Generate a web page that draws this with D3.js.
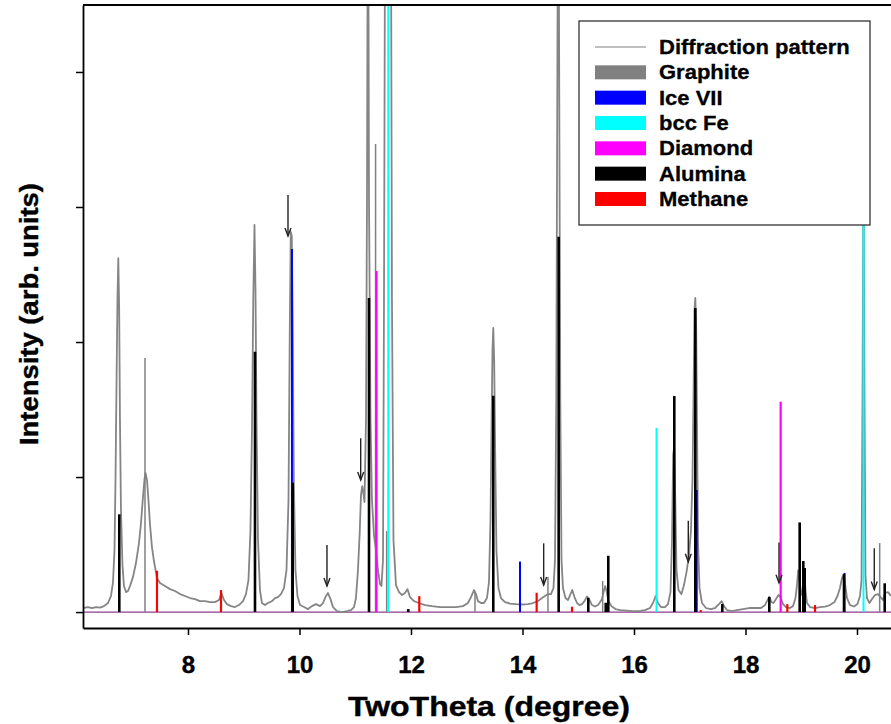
<!DOCTYPE html>
<html>
<head>
<meta charset="utf-8">
<script src="https://cdn.jsdelivr.net/npm/d3@7"></script>
<style>
  body { margin: 0; background: #fff; }
  #root { width: 891px; height: 724px; }
  text { font-family: "Liberation Sans", Arial, Helvetica, sans-serif; font-weight: bold; }
</style>
</head>
<body>
<div id="root"></div>
<script>
// measured diffraction pattern [2theta, intensity]
const pattern = [
  [6.117,30],[6.206,37],[6.278,30],[6.350,37],[6.422,33],[6.493,44],[6.565,67],[6.619,119],[6.655,222],[6.682,459],
  [6.700,978],[6.717,1644],[6.735,2311],[6.750,2622],[6.766,2237],[6.780,1422],[6.798,756],[6.825,348],[6.852,193],[6.888,148],
  [6.924,156],[6.960,193],[7.013,259],[7.067,363],[7.121,511],[7.157,659],[7.193,852],[7.220,985],[7.238,1030],[7.265,978],
  [7.291,830],[7.318,652],[7.354,481],[7.390,378],[7.444,252],[7.498,215],[7.587,193],[7.677,170],[7.767,156],[7.857,133],
  [7.946,119],[8.036,104],[8.126,96],[8.215,81],[8.305,81],[8.395,74],[8.484,74],[8.556,89],[8.601,141],[8.646,89],
  [8.700,59],[8.771,44],[8.843,37],[8.915,52],[8.987,81],[9.040,133],[9.085,237],[9.121,607],[9.148,1348],[9.171,2311],
  [9.193,2867],[9.211,2385],[9.229,1422],[9.256,533],[9.291,163],[9.327,67],[9.381,52],[9.435,67],[9.507,81],[9.561,104],
  [9.614,111],[9.668,133],[9.722,178],[9.767,311],[9.803,830],[9.826,2089],[9.844,2815],[9.862,2785],[9.880,2089],[9.898,978],
  [9.928,311],[9.964,119],[10.009,52],[10.081,37],[10.152,22],[10.224,44],[10.296,59],[10.368,44],[10.422,67],[10.466,111],
  [10.511,141],[10.556,96],[10.601,37],[10.673,7],[10.762,0],[10.852,7],[10.924,15],[10.978,37],[11.013,104],[11.049,311],
  [11.080,585],[11.103,867],[11.126,933],[11.144,889],[11.166,815],[11.193,1422],[11.211,3052],[11.229,6000],[11.247,3052],[11.274,1422],
  [11.300,830],[11.336,570],[11.372,459],[11.408,311],[11.444,207],[11.471,193],[11.498,385],[11.516,2311],[11.534,5000],[11.588,6500],
  [11.642,5000],[11.659,2311],[11.686,533],[11.731,200],[11.785,148],[11.839,126],[11.892,141],[11.937,170],[11.982,111],[12.054,81],
  [12.143,67],[12.251,52],[12.377,44],[12.520,37],[12.664,37],[12.807,37],[12.933,44],[13.022,67],[13.076,111],[13.130,163],
  [13.166,133],[13.202,81],[13.256,67],[13.309,67],[13.363,104],[13.399,222],[13.426,681],[13.444,1348],[13.462,1941],[13.476,2104],
  [13.492,1867],[13.512,1126],[13.533,459],[13.569,178],[13.614,104],[13.686,74],[13.776,63],[13.883,59],[13.991,56],[14.099,59],
  [14.188,67],[14.278,81],[14.350,104],[14.404,119],[14.457,133],[14.511,133],[14.556,178],[14.583,385],[14.606,1570],[14.624,3792],
  [14.642,6000],[14.660,3792],[14.678,1570],[14.700,385],[14.726,178],[14.771,104],[14.816,89],[14.861,133],[14.893,163],[14.933,111],
  [14.978,67],[15.022,52],[15.067,59],[15.112,81],[15.157,115],[15.202,89],[15.247,52],[15.301,41],[15.355,52],[15.381,67],
  [15.426,96],[15.462,163],[15.485,193],[15.507,156],[15.543,81],[15.596,44],[15.668,22],[15.758,15],[15.865,11],[15.973,7],
  [16.090,7],[16.197,15],[16.287,30],[16.341,67],[16.389,119],[16.430,67],[16.484,37],[16.556,37],[16.610,59],[16.655,148],
  [16.682,533],[16.703,1163],[16.721,1230],[16.741,830],[16.762,311],[16.798,163],[16.852,133],[16.897,200],[16.942,296],[16.987,422],
  [17.022,607],[17.049,978],[17.067,1570],[17.085,2237],[17.100,2326],[17.116,2089],[17.130,1422],[17.148,533],[17.175,178],[17.220,67],
  [17.291,30],[17.381,22],[17.453,30],[17.525,59],[17.573,81],[17.614,44],[17.668,15],[17.758,7],[17.848,15],[17.955,22],
  [18.063,30],[18.170,30],[18.278,30],[18.350,52],[18.395,89],[18.427,111],[18.466,74],[18.502,67],[18.547,96],[18.592,126],
  [18.628,111],[18.673,59],[18.726,37],[18.798,30],[18.852,44],[18.897,104],[18.924,200],[18.946,311],[18.969,237],[18.996,126],
  [19.023,163],[19.050,311],[19.076,163],[19.103,67],[19.157,37],[19.247,30],[19.336,37],[19.426,41],[19.516,52],[19.596,74],
  [19.650,119],[19.695,178],[19.731,252],[19.762,274],[19.789,200],[19.821,104],[19.875,52],[19.946,41],[20.009,59],[20.054,119],
  [20.081,237],[20.099,1570],[20.117,3422],[20.135,1570],[20.152,274],[20.179,104],[20.224,67],[20.269,96],[20.323,126],[20.377,133],
  [20.422,111],[20.466,89],[20.502,141],[20.556,148],[20.610,119]
]

// reference peak positions [2theta, intensity]
const graphite = [[7.229,1881],[11.365,3467],[11.564,600],[13.148,150],[14.457,259],[15.438,230],[20.407,511]]
const iceVII = [[9.865,2689],[13.955,374],[17.125,904],[19.776,290]]
const bccFe = [[11.593,6000],[16.404,1363],[20.117,3400]]
const diamond = [[11.381,2526],[18.631,1558]]
const alumina = [
  [6.768,724],[9.202,1928],[9.878,958],[11.247,2326],[11.952,22],[13.476,1602],[14.649,2780],
  [15.180,106],[15.493,69],[15.539,417],[16.723,1600],[17.100,2252],[17.584,59],[18.427,113],
  [18.972,664],[19.037,378],[19.062,326],[19.767,281],[20.497,213]
]
const methane = [[7.444,306],[8.592,163],[12.149,118],[14.254,143],[14.888,39],[17.197,15],[18.750,59],[19.247,52]]

// arrows marking weak peaks [2theta, tail intensity, tip intensity]
const arrows = [[9.794,3089,2785],[10.493,496,193],[11.098,1287,978],[14.380,509,200],[16.974,676,373],[18.601,516,217],[20.310,472,168]]

const xTicks = [8, 10, 12, 14, 16, 18, 20]
const yTicks = [0, 1000, 2000, 3000, 4000]

const phases = [
  { name: 'Graphite', color: '#808080', data: graphite, w: 1.5 },
  { name: 'Ice VII', color: '#0000ff', data: iceVII, w: 2 },
  { name: 'bcc Fe', color: '#00ffff', data: bccFe, w: 2 },
  { name: 'Diamond', color: '#ff00ff', data: diamond, w: 2.2 },
  { name: 'Alumina', color: '#000000', data: alumina, w: 2.6 },
  { name: 'Methane', color: '#ff0000', data: methane, w: 2.2 }
]

const width = 891
const height = 724
const margin = { top: 5, right: 0, bottom: 96, left: 83 }

const svg = d3.select('#root').append('svg').attr('width', width).attr('height', height)

const x = d3.scaleLinear().domain([6.117, 20.61]).range([margin.left, width])
const y = d3.scaleLinear().domain([-118, 4496]).range([height - margin.bottom, margin.top])

svg.append('clipPath').attr('id', 'plot')
  .append('rect')
  .attr('x', margin.left).attr('y', margin.top)
  .attr('width', width - margin.left).attr('height', height - margin.bottom - margin.top)

const g = svg.append('g').attr('clip-path', 'url(#plot)')

// zero line
g.append('line')
  .attr('x1', margin.left).attr('x2', width)
  .attr('y1', y(0)).attr('y2', y(0))
  .attr('stroke', '#8e3d8e').attr('stroke-width', 1.2)

// pattern
g.append('path')
  .datum(pattern)
  .attr('fill', 'none')
  .attr('stroke', '#858585')
  .attr('stroke-width', 1.8)
  .attr('stroke-linejoin', 'round')
  .attr('d', d3.line().x(d => x(d[0])).y(d => y(d[1])))

// reference sticks
phases.forEach(function (p) {
  g.append('g').selectAll('line')
    .data(p.data)
    .enter()
    .append('line')
    .attr('x1', d => x(d[0])).attr('x2', d => x(d[0]))
    .attr('y1', y(0)).attr('y2', d => y(d[1]))
    .attr('stroke', p.color)
    .attr('stroke-width', p.w)
})

// arrows
const ag = g.append('g').attr('stroke', '#222').attr('stroke-width', 1.4).attr('fill', 'none')
arrows.forEach(function (a) {
  const ax = x(a[0])
  const y0 = y(a[1])
  const y1 = y(a[2])
  ag.append('line').attr('x1', ax).attr('x2', ax).attr('y1', y0).attr('y2', y1)
  ag.append('path').attr('d', `M${ax - 3},${y1 - 8}L${ax},${y1}L${ax + 3},${y1 - 8}`)
})

function widen(sel, k) {
  sel.each(function () {
    const w = this.getComputedTextLength()
    d3.select(this).attr('textLength', w * k).attr('lengthAdjust', 'spacingAndGlyphs')
  })
}

// axes
const yAxis = svg.append('g')
  .attr('transform', `translate(${margin.left},0)`)
  .call(d3.axisLeft(y).tickValues(yTicks).tickFormat('').tickSize(7).tickSizeOuter(0))
yAxis.select('.domain').attr('stroke', '#000').attr('stroke-width', 1.8)
yAxis.selectAll('.tick line').attr('stroke-width', 1.5)

const xAxis = svg.append('g')
  .attr('transform', `translate(0,${height - margin.bottom})`)
  .call(d3.axisBottom(x).tickValues(xTicks).tickSize(7).tickSizeOuter(0))
xAxis.select('.domain').attr('stroke', '#000').attr('stroke-width', 1.8)
xAxis.selectAll('.tick line').attr('stroke-width', 1.5)
xAxis.selectAll('.tick text')
  .attr('y', 45).attr('dy', null)
  .attr('font-size', 24).attr('fill', '#000')
  .attr('stroke', '#000').attr('stroke-width', 0.4)
  .style('font-family', '"Liberation Sans", Arial, sans-serif').style('font-weight', 'bold')

// top border
svg.append('line')
  .attr('x1', margin.left).attr('x2', width)
  .attr('y1', margin.top).attr('y2', margin.top)
  .attr('stroke', '#000').attr('stroke-width', 1.8)

// titles
svg.append('text')
  .attr('x', 489).attr('y', 716)
  .attr('text-anchor', 'middle')
  .attr('font-size', 28)
  .attr('stroke', '#000').attr('stroke-width', 0.4)
  .attr('textLength', 282).attr('lengthAdjust', 'spacingAndGlyphs')
  .text('TwoTheta (degree)')

svg.append('text')
  .attr('transform', 'translate(38,314) rotate(-90)')
  .attr('text-anchor', 'middle')
  .attr('font-size', 26)
  .attr('stroke', '#000').attr('stroke-width', 0.4)
  .attr('textLength', 262).attr('lengthAdjust', 'spacingAndGlyphs')
  .text('Intensity (arb. units)')

// legend
const lg = svg.append('g')
lg.append('rect')
  .attr('x', 579).attr('y', 21).attr('width', 291).attr('height', 204)
  .attr('fill', '#fff').attr('stroke', '#222').attr('stroke-width', 1.2)

const rowY = d3.scaleLinear().domain([0, 6]).range([47, 199])
lg.append('line')
  .attr('x1', 595).attr('x2', 646).attr('y1', rowY(0)).attr('y2', rowY(0))
  .attr('stroke', '#808080').attr('stroke-width', 1.2)
lg.append('text')
  .attr('x', 659).attr('y', rowY(0) + 7).attr('font-size', 20)
  .attr('stroke', '#000').attr('stroke-width', 0.3)
  .text('Diffraction pattern').call(widen, 1.1)

phases.forEach(function (p, i) {
  lg.append('rect')
    .attr('x', 595).attr('y', rowY(i + 1) - 7).attr('width', 51).attr('height', 14)
    .attr('fill', p.color)
  lg.append('text')
    .attr('x', 659).attr('y', rowY(i + 1) + 7).attr('font-size', 20)
    .attr('stroke', '#000').attr('stroke-width', 0.3)
    .text(p.name).call(widen, 1.1)
})
</script>
</body>
</html>
